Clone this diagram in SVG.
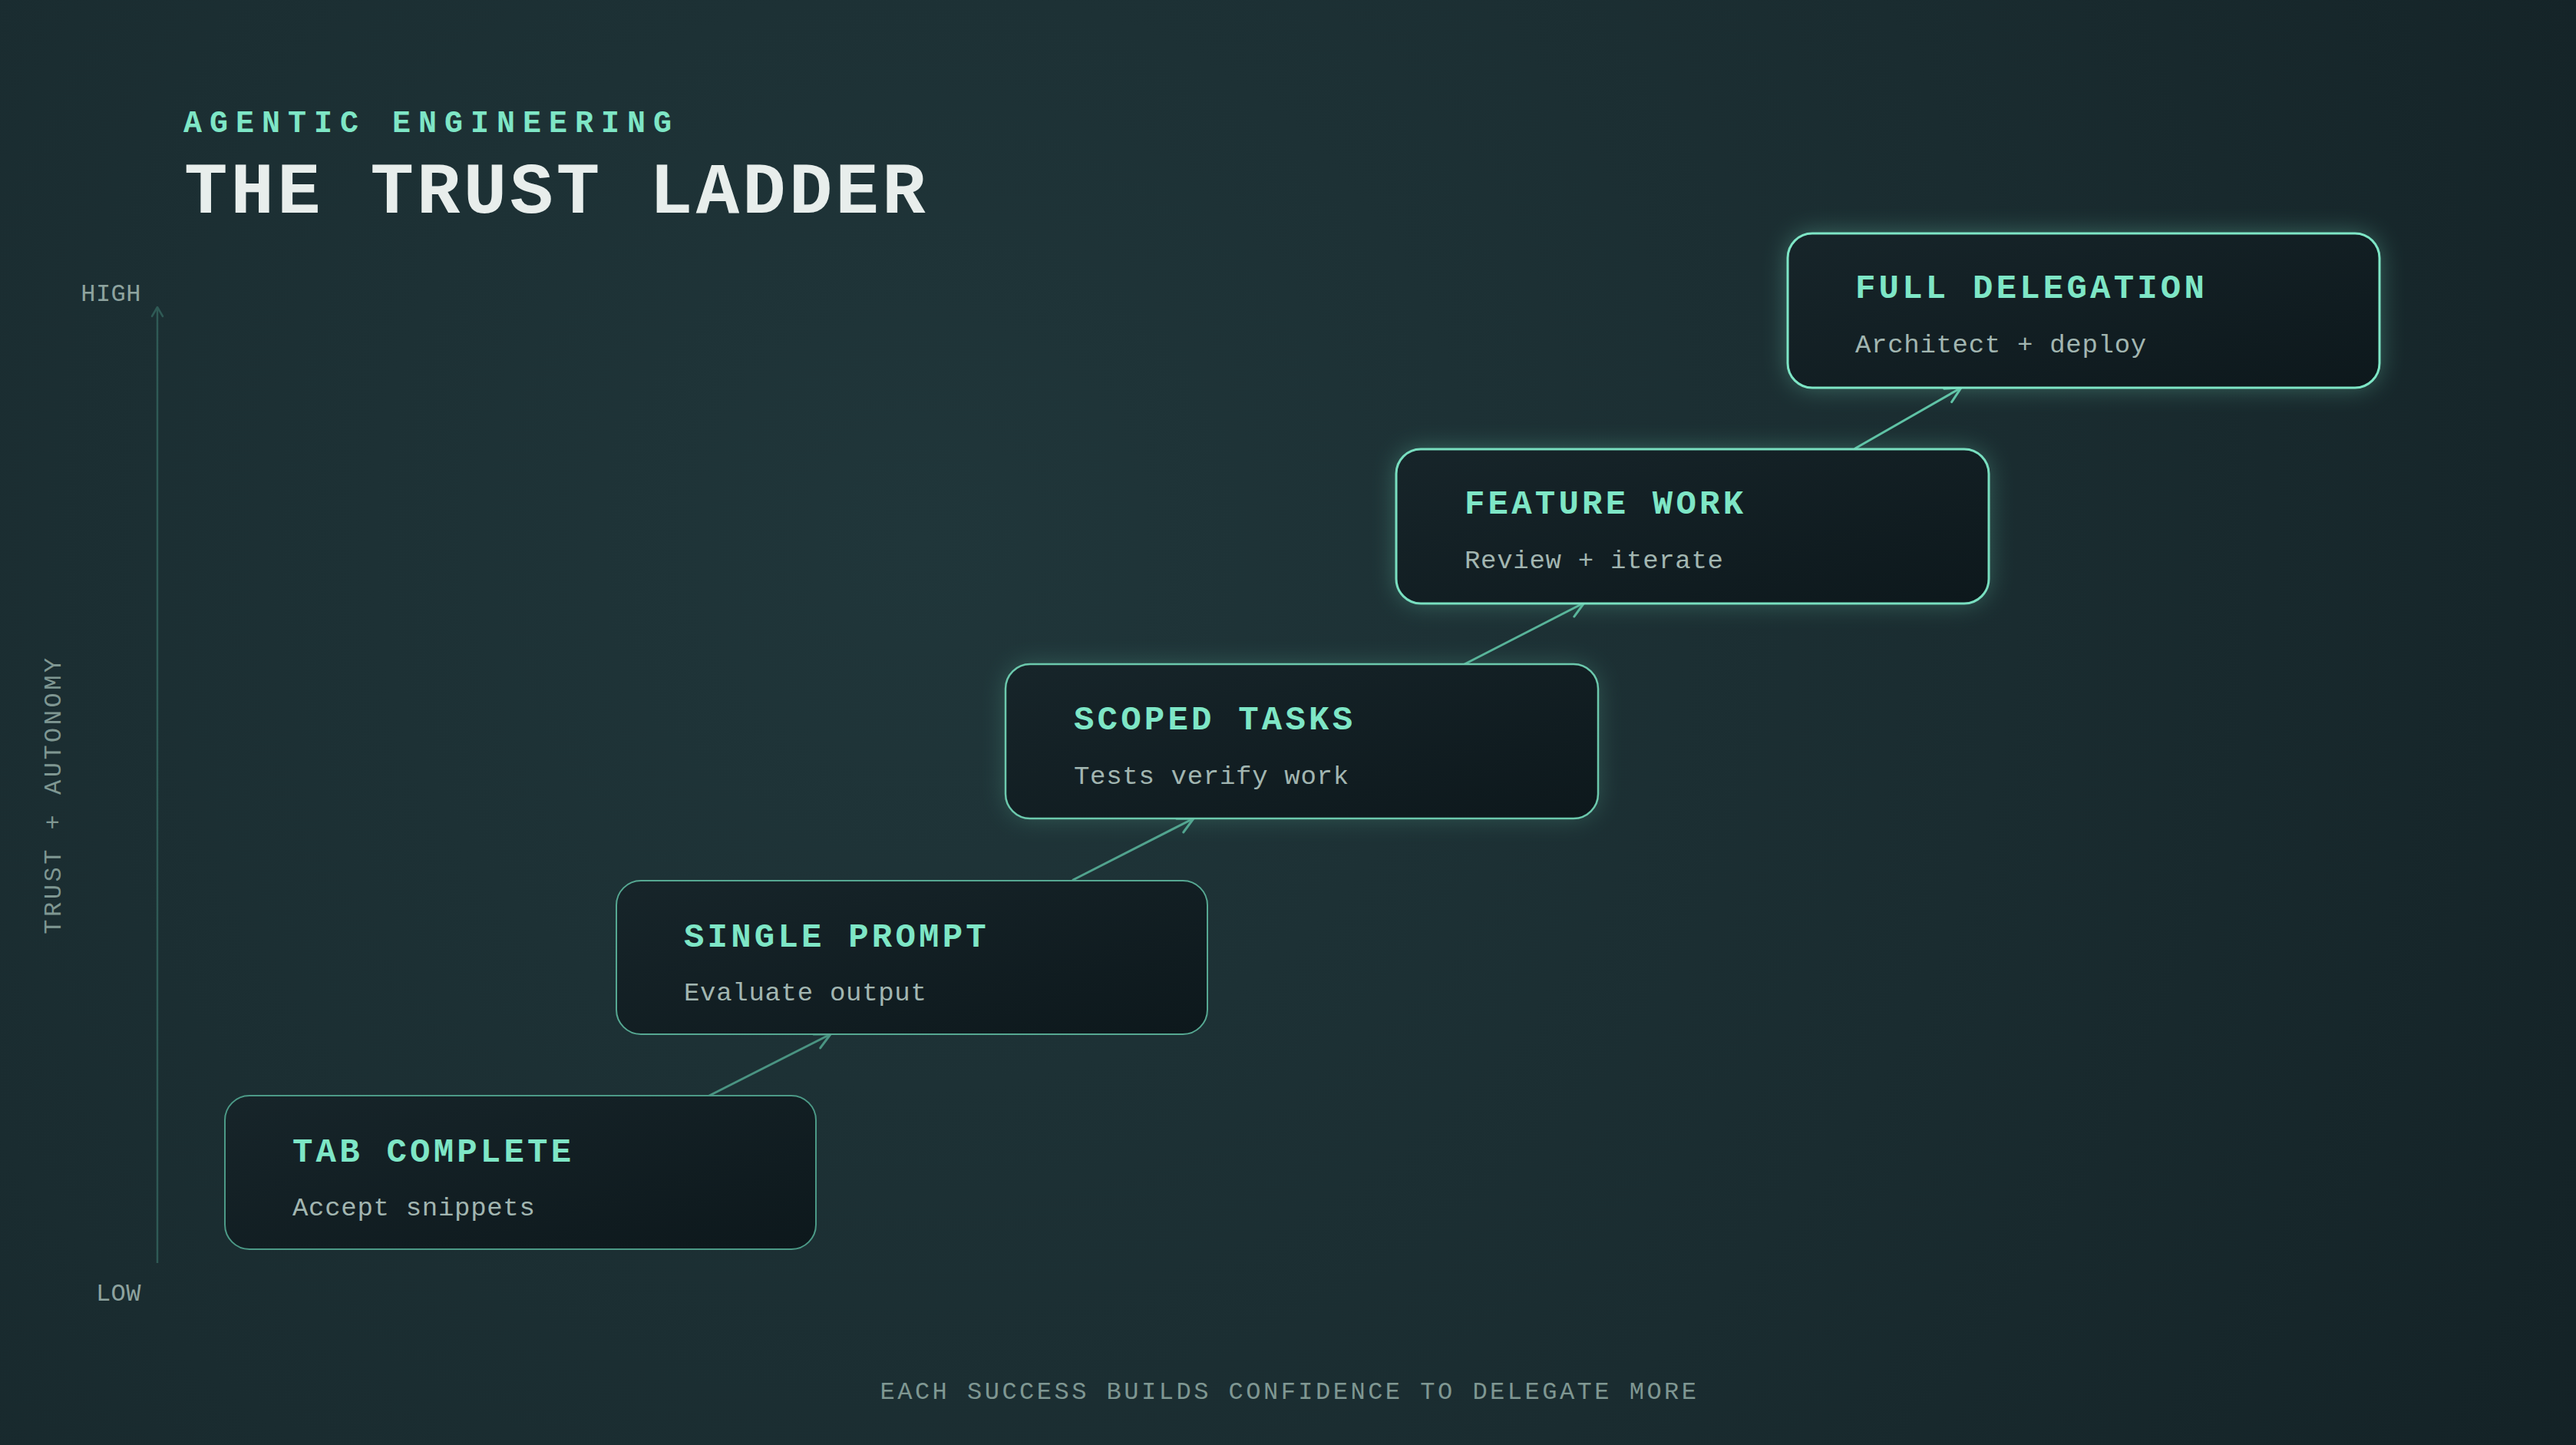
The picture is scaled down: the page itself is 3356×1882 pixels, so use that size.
<svg xmlns="http://www.w3.org/2000/svg" width="3356" height="1882" viewBox="0 0 3356 1882">
  <defs>
    <radialGradient id="bg" cx="1200" cy="700" r="2600" gradientUnits="userSpaceOnUse">
      <stop offset="0" stop-color="#20363a"/>
      <stop offset="0.55" stop-color="#1a2c30"/>
      <stop offset="1" stop-color="#132125"/>
    </radialGradient>
    <linearGradient id="boxfill" x1="0" y1="0" x2="1" y2="1">
      <stop offset="0" stop-color="#17252a"/>
      <stop offset="1" stop-color="#0d181c"/>
    </linearGradient>
    <filter id="glow" x="-20%" y="-50%" width="140%" height="200%">
      <feGaussianBlur stdDeviation="16"/>
    </filter>
    <marker id="m0" viewBox="-24 -13 27 26" refX="0" refY="0" markerWidth="27" markerHeight="26" markerUnits="userSpaceOnUse" orient="auto">
      <path d="M-20 -10 L0 0 L-20 10" fill="none" stroke="#4a9482" stroke-width="3" stroke-linecap="round" stroke-linejoin="round"/>
    </marker>
    <marker id="m1" viewBox="-24 -13 27 26" refX="0" refY="0" markerWidth="27" markerHeight="26" markerUnits="userSpaceOnUse" orient="auto">
      <path d="M-20 -10 L0 0 L-20 10" fill="none" stroke="#51a38e" stroke-width="3" stroke-linecap="round" stroke-linejoin="round"/>
    </marker>
    <marker id="m2" viewBox="-24 -13 27 26" refX="0" refY="0" markerWidth="27" markerHeight="26" markerUnits="userSpaceOnUse" orient="auto">
      <path d="M-20 -10 L0 0 L-20 10" fill="none" stroke="#58b399" stroke-width="3" stroke-linecap="round" stroke-linejoin="round"/>
    </marker>
    <marker id="m3" viewBox="-24 -13 27 26" refX="0" refY="0" markerWidth="27" markerHeight="26" markerUnits="userSpaceOnUse" orient="auto">
      <path d="M-20 -10 L0 0 L-20 10" fill="none" stroke="#5fc2a5" stroke-width="3" stroke-linecap="round" stroke-linejoin="round"/>
    </marker>
  </defs>
  <style>
    .mono { font-family: "Nimbus Mono PS", "Courier New", Courier, "FreeMono", "Liberation Mono", monospace; }
    .kicker { font-size: 40px; font-weight: bold; fill: #7ee6c6; letter-spacing: 10px; }
    .headline { font-size: 94px; font-weight: bold; fill: #e8eeec; letter-spacing: 4.2px; }
    .box { fill: url(#boxfill); }
    .title { font-size: 44px; font-weight: bold; fill: #7ee6c6; letter-spacing: 4.2px; }
    .sub { font-size: 34px; fill: #a2b6b1; letter-spacing: 0.7px; }
    .axislbl { font-size: 32px; fill: #8ea39f; letter-spacing: 0.5px; }
    .vlbl { font-size: 32px; fill: #7f9792; letter-spacing: 3.5px; }
    .caption { font-size: 32px; fill: #7f9792; letter-spacing: 3.5px; }
    .conn { fill: none; stroke-width: 3; stroke-linecap: round; }
  </style>

  <rect x="0" y="0" width="3356" height="1882" fill="url(#bg)"/>

  <g id="header" class="mono">
    <text class="kicker" x="239" y="172">AGENTIC ENGINEERING</text>
    <text class="headline" x="240" y="277">THE TRUST LADDER</text>
  </g>

  <g id="axis" class="mono">
    <line x1="205" y1="401" x2="205" y2="1645" stroke="#2f5a55" stroke-width="2.5"/>
    <path d="M198 412 L205 400 L212 412" fill="none" stroke="#2f5a55" stroke-width="2.5" stroke-linecap="round" stroke-linejoin="round"/>
    <text class="axislbl" x="184" y="392" text-anchor="end">HIGH</text>
    <text class="axislbl" x="184" y="1694" text-anchor="end">LOW</text>
    <text class="vlbl" transform="translate(79 1035) rotate(-90)" text-anchor="middle">TRUST + AUTONOMY</text>
  </g>

  <g id="connectors">
    <line class="conn" x1="924" y1="1427" x2="1082" y2="1347" stroke="#4a9482" marker-end="url(#m0)"/>
    <line class="conn" x1="1398" y1="1146" x2="1555" y2="1066" stroke="#51a38e" marker-end="url(#m1)"/>
    <line class="conn" x1="1908" y1="865" x2="2064" y2="785" stroke="#58b399" marker-end="url(#m2)"/>
    <line class="conn" x1="2417" y1="584" x2="2555" y2="505" stroke="#5fc2a5" marker-end="url(#m3)"/>
  </g>

  <g id="node-tab-complete" class="mono">
    <rect class="box" x="293" y="1427" width="770" height="200" rx="32" stroke="#4c9a87" stroke-width="2"/>
    <text class="title" x="381" y="1513">TAB COMPLETE</text>
    <text class="sub" x="381" y="1583">Accept snippets</text>
  </g>

  <g id="node-single-prompt" class="mono">
    <rect class="box" x="803" y="1147" width="770" height="200" rx="32" stroke="#56a892" stroke-width="2"/>
    <text class="title" x="891" y="1233">SINGLE PROMPT</text>
    <text class="sub" x="891" y="1303">Evaluate output</text>
  </g>

  <g id="node-scoped-tasks" class="mono">
    <rect x="1310" y="865" width="772" height="201" rx="32" fill="#6fd6b6" opacity="0.24" filter="url(#glow)"/>
    <rect class="box" x="1310" y="865" width="772" height="201" rx="32" stroke="#6cc9ad" stroke-width="2.5"/>
    <text class="title" x="1399" y="950">SCOPED TASKS</text>
    <text class="sub" x="1399" y="1021">Tests verify work</text>
  </g>

  <g id="node-feature-work" class="mono">
    <rect x="1819" y="585" width="772" height="201" rx="32" fill="#72dcbb" opacity="0.32" filter="url(#glow)"/>
    <rect class="box" x="1819" y="585" width="772" height="201" rx="32" stroke="#79dfc0" stroke-width="3"/>
    <text class="title" x="1908" y="669">FEATURE WORK</text>
    <text class="sub" x="1908" y="740">Review + iterate</text>
  </g>

  <g id="node-full-delegation" class="mono">
    <rect x="2329" y="304" width="771" height="201" rx="32" fill="#7ee6c6" opacity="0.34" filter="url(#glow)"/>
    <rect class="box" x="2329" y="304" width="771" height="201" rx="32" stroke="#7ee6c6" stroke-width="3"/>
    <text class="title" x="2417" y="388">FULL DELEGATION</text>
    <text class="sub" x="2417" y="459">Architect + deploy</text>
  </g>

  <g id="footer" class="mono">
    <text class="caption" x="1680" y="1822" text-anchor="middle">EACH SUCCESS BUILDS CONFIDENCE TO DELEGATE MORE</text>
  </g>
</svg>
